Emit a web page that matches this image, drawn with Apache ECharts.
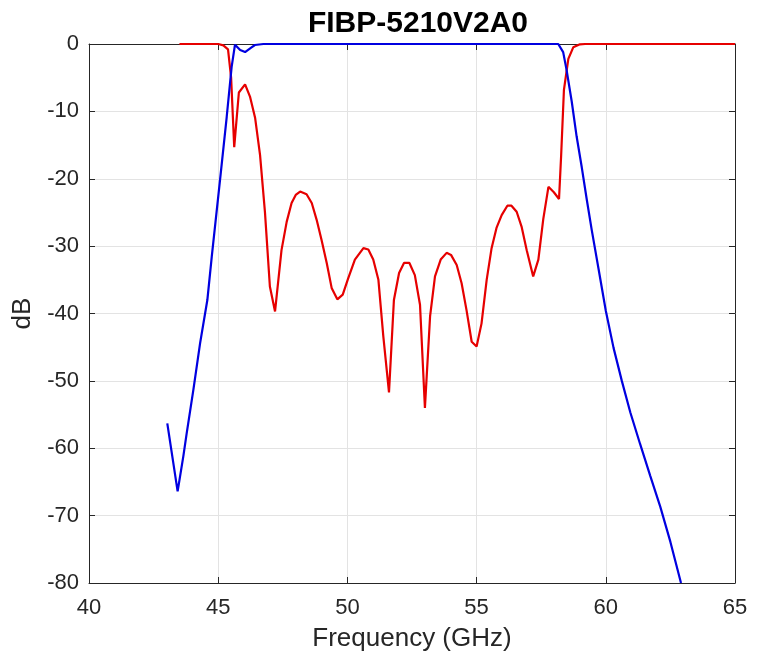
<!DOCTYPE html>
<html>
<head>
<meta charset="utf-8">
<script src="https://cdn.jsdelivr.net/npm/echarts@6/dist/echarts.min.js"></script>
<style>
html,body{margin:0;padding:0;background:#fff;}
#c{width:762px;height:661px;}
</style>
</head>
<body>
<div id="c"></div>
<script>
var titleText = 'FIBP-5210V2A0';
var xTicks = [40, 45, 50, 55, 60, 65];
var yTicks = [-80, -70, -60, -50, -40, -30, -20, -10, 0];

var s11Freq = [43.5, 45.0, 45.2, 45.38, 45.5, 45.62, 45.8, 46.04, 46.23, 46.43, 46.62, 46.81, 47.0, 47.2, 47.45, 47.65, 47.84, 48.0, 48.17, 48.42, 48.62, 48.81, 49.0, 49.2, 49.39, 49.61, 49.82, 50.03, 50.29, 50.62, 50.81, 51.0, 51.2, 51.39, 51.61, 51.8, 52.0, 52.19, 52.4, 52.61, 52.81, 53.0, 53.2, 53.39, 53.61, 53.84, 54.01, 54.23, 54.42, 54.61, 54.81, 55.0, 55.19, 55.39, 55.58, 55.77, 55.97, 56.19, 56.35, 56.55, 56.74, 56.94, 57.19, 57.39, 57.58, 57.78, 57.99, 58.19, 58.27, 58.38, 58.55, 58.74, 59.0, 59.2, 65.0];
var s11Db = [0, 0, -0.2, -0.8, -5, -15.3, -7.2, -6.0, -7.8, -11, -16.5, -25, -36, -39.7, -30.6, -26.4, -23.6, -22.4, -21.9, -22.3, -23.6, -26.1, -29.1, -32.5, -36.2, -37.9, -37.2, -34.8, -32.0, -30.3, -30.5, -32.0, -35.0, -43.4, -51.7, -38.0, -34.0, -32.5, -32.5, -34.3, -38.7, -54.0, -40.4, -34.5, -32.0, -31.0, -31.3, -32.8, -35.5, -39.5, -44.2, -44.9, -41.5, -35.0, -30.3, -27.3, -25.4, -24.0, -24.0, -24.9, -27.1, -30.6, -34.5, -32.0, -26.0, -21.2, -22.0, -23.0, -16.7, -6.8, -2.2, -0.5, -0.05, 0, 0];

var s21Freq = [43.03, 43.43, 43.65, 43.78, 44.04, 44.3, 44.58, 44.75, 45.07, 45.33, 45.52, 45.65, 45.85, 46.04, 46.25, 46.42, 46.75, 58.16, 58.35, 58.48, 58.68, 58.87, 59.07, 59.26, 59.46, 59.72, 60.0, 60.3, 60.62, 60.95, 61.33, 61.72, 62.11, 62.5, 62.91];
var s21Db = [-56.3, -66.4, -61.2, -57.8, -51.3, -44.4, -38.0, -31.6, -20.2, -10.8, -3.4, -0.1, -0.9, -1.2, -0.6, -0.15, 0, 0, -1.2, -3.8, -8.5, -13.7, -18.3, -23.0, -27.7, -33.4, -39.6, -45.1, -50.0, -54.7, -59.4, -64.1, -68.7, -73.9, -80];

function pairs(xs, ys) { return xs.map(function (x, i) { return [x, ys[i]]; }); }

var font = 'Liberation Sans, Arial, Helvetica, sans-serif';
var axisCol = '#262626';
var chart = echarts.init(document.getElementById('c'), null, { renderer: 'canvas' });

var xMin = xTicks[0], xMax = xTicks[xTicks.length - 1];
var yMin = yTicks[0], yMax = yTicks[yTicks.length - 1];
var xInt = xTicks[1] - xTicks[0], yInt = yTicks[1] - yTicks[0];

chart.setOption({
  animation: false,
  backgroundColor: '#fff',
  title: {
    text: titleText,
    left: 413, top: 4,
    textAlign: 'center',
    textStyle: { fontFamily: font, fontSize: 30, fontWeight: 'bold', color: '#000' }
  },
  grid: { left: 89, right: 27, top: 44, bottom: 78, containLabel: false },
  xAxis: [{
    type: 'value', min: xMin, max: xMax, interval: xInt, position: 'bottom',
    name: 'Frequency (GHz)', nameLocation: 'middle', nameGap: 43,
    nameTextStyle: { fontFamily: font, fontSize: 26, color: axisCol },
    axisLine: { show: true, onZero: false, lineStyle: { color: axisCol, width: 1 } },
    axisTick: { show: true, inside: true, length: 6, lineStyle: { color: axisCol } },
    axisLabel: { fontFamily: font, fontSize: 22, color: axisCol, margin: 14 },
    splitLine: { show: true, lineStyle: { color: '#e3e3e3', width: 1 } }
  }, {
    type: 'value', min: xMin, max: xMax, interval: xInt, position: 'top',
    axisLine: { show: true, onZero: false, lineStyle: { color: axisCol, width: 1 } },
    axisTick: { show: true, inside: true, length: 6, lineStyle: { color: axisCol } },
    axisLabel: { show: false }, splitLine: { show: false }
  }],
  yAxis: [{
    type: 'value', min: yMin, max: yMax, interval: yInt, position: 'left',
    name: 'dB', nameLocation: 'middle', nameGap: 50, nameRotate: 90,
    nameTextStyle: { fontFamily: font, fontSize: 26, color: axisCol },
    axisLine: { show: true, onZero: false, lineStyle: { color: axisCol, width: 1 } },
    axisTick: { show: true, inside: true, length: 6, lineStyle: { color: axisCol } },
    axisLabel: { fontFamily: font, fontSize: 22, color: axisCol, margin: 10 },
    splitLine: { show: true, lineStyle: { color: '#e3e3e3', width: 1 } }
  }, {
    type: 'value', min: yMin, max: yMax, interval: yInt, position: 'right',
    axisLine: { show: true, onZero: false, lineStyle: { color: axisCol, width: 1 } },
    axisTick: { show: true, inside: true, length: 6, lineStyle: { color: axisCol } },
    axisLabel: { show: false }, splitLine: { show: false }
  }],
  series: [{
    name: 'S11', type: 'line', data: pairs(s11Freq, s11Db),
    showSymbol: false, symbol: 'none', clip: false,
    lineStyle: { color: '#e60000', width: 2.2 }, z: 3
  }, {
    name: 'S21', type: 'line', data: pairs(s21Freq, s21Db),
    showSymbol: false, symbol: 'none', clip: false,
    lineStyle: { color: '#0000e0', width: 2.2 }, z: 4
  }]
});
</script>
</body>
</html>
